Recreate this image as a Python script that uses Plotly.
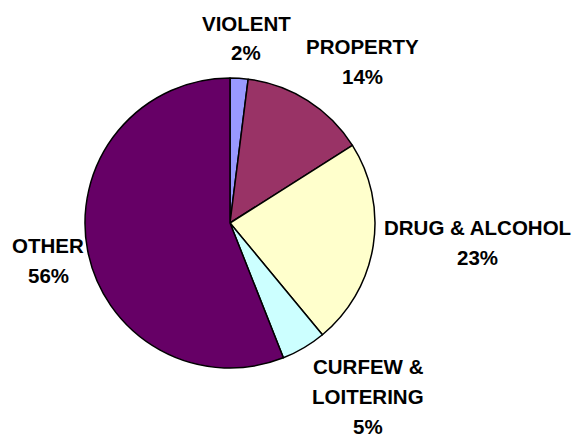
import plotly.graph_objects as go

categories = ["VIOLENT", "PROPERTY", "DRUG & ALCOHOL", "CURFEW & LOITERING", "OTHER"]
values = [2, 14, 23, 5, 56]
colors = ["#9999FF", "#993366", "#FFFFCC", "#CCFFFF", "#660066"]

# label lines for each category (text) and their pixel centres (layout)
label_lines = [["VIOLENT"], ["PROPERTY"], ["DRUG & ALCOHOL"], ["CURFEW &", "LOITERING"], ["OTHER"]]
label_pos = [(246, 23), (362, 46), (477, 227), (368, 366), (48, 245)]

W, H = 575, 439
LINE = 30
CX, CY, R = 230, 223, 145

fig = go.Figure(go.Pie(
    labels=categories, values=values, sort=False, direction="clockwise", rotation=0,
    marker=dict(colors=colors, line=dict(color="black", width=1.5)),
    textinfo="none", hoverinfo="label+percent", showlegend=False,
    domain=dict(x=[(CX - R) / W, (CX + R) / W], y=[(H - CY - R) / H, (H - CY + R) / H]),
))

anns = []
for cat, val, lines, (px, py) in zip(categories, values, label_lines, label_pos):
    allines = lines + [f"{val}%"]
    for i, t in enumerate(allines):
        anns.append(dict(
            x=px / W, y=1 - (py + i * LINE) / H, xref="paper", yref="paper",
            text=f"<b>{t}</b>", showarrow=False, xanchor="center", yanchor="middle",
            font=dict(family="Liberation Sans, Arial", size=20.5, color="black"),
        ))

fig.update_layout(
    width=W, height=H, margin=dict(l=0, r=0, t=0, b=0),
    paper_bgcolor="white", plot_bgcolor="white", annotations=anns,
)
fig.write_html("out.html", config={"displayModeBar": False},
               post_script="document.body.style.margin='0';")
